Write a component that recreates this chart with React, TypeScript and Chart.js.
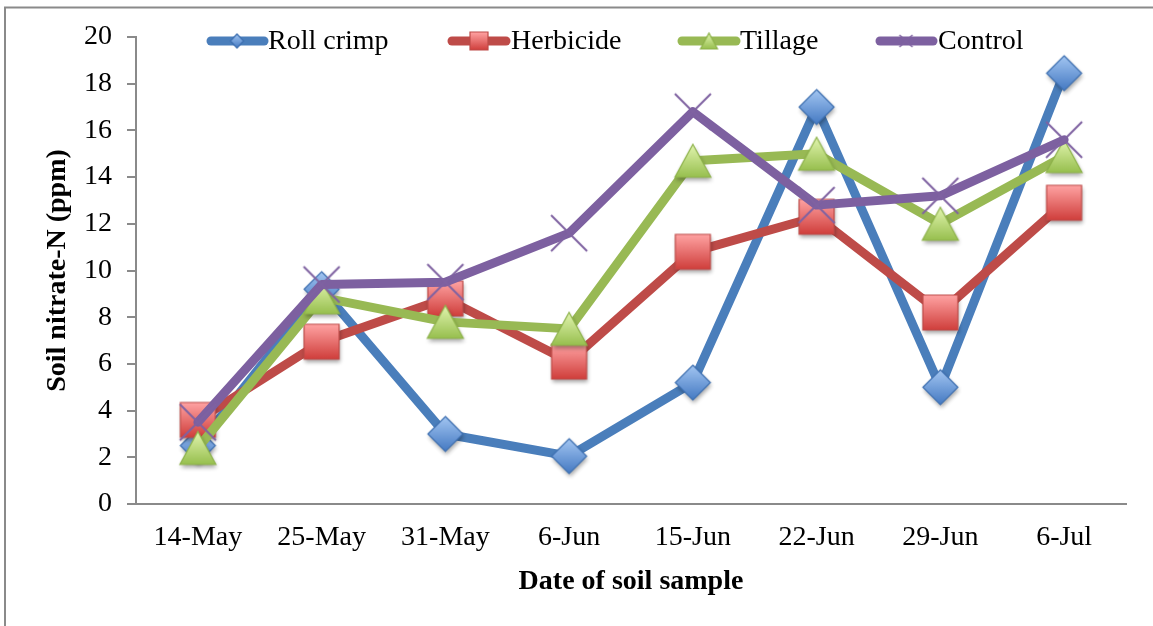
import React, { useEffect, useRef } from 'react';
import { Chart, registerables } from 'chart.js';

Chart.register(...registerables);

const categories = ['14-May', '25-May', '31-May', '6-Jun', '15-Jun', '22-Jun', '29-Jun', '6-Jul'];
const rollCrimp = [2.5, 9.2, 3.0, 2.05, 5.2, 17.0, 5.0, 18.45];
const herbicide = [3.6, 6.95, 8.8, 6.1, 10.8, 12.3, 8.2, 12.9];
const tillage = [2.4, 8.85, 7.8, 7.5, 14.7, 15.0, 12.0, 14.9];
const control = [3.5, 9.4, 9.5, 11.6, 16.8, 12.8, 13.2, 15.6];
const seriesNames = ['Roll crimp', 'Herbicide', 'Tillage', 'Control'];
const yAxisTitle = 'Soil nitrate-N (ppm)';
const xAxisTitle = 'Date of soil sample';

const FONT = '"Liberation Serif", "Times New Roman", serif';

type Kind = 'diamond' | 'square' | 'triangle' | 'cross';

interface MarkerStyle {
  kind: Kind;
  top: string;
  bottom: string;
  border: string;
}

const markerStyles: MarkerStyle[] = [
  { kind: 'diamond', top: '#A3C6F2', bottom: '#4479C2', border: '#3D6FB0' },
  { kind: 'square', top: '#FFA3A3', bottom: '#CF3E3B', border: '#BE4B48' },
  { kind: 'triangle', top: '#E2F5B0', bottom: '#97BF4E', border: '#8DB24A' },
  { kind: 'cross', top: '#7F62A1', bottom: '#7F62A1', border: '#7F62A1' },
];
const lineColors = ['#4A7EBB', '#BE4B48', '#98B954', '#7D60A0'];

function makeMarker(st: MarkerStyle, w: number, h: number, shadow: boolean): HTMLCanvasElement {
  const pad = 8;
  const c = document.createElement('canvas');
  c.width = Math.round(w + pad * 2);
  c.height = Math.round(h + pad * 2);
  const ctx = c.getContext('2d') as CanvasRenderingContext2D;
  const cx = c.width / 2;
  const cy = c.height / 2;
  const hw = w / 2;
  const hh = h / 2;
  const path = () => {
    ctx.beginPath();
    if (st.kind === 'diamond') {
      ctx.moveTo(cx, cy - hh);
      ctx.lineTo(cx + hw, cy);
      ctx.lineTo(cx, cy + hh);
      ctx.lineTo(cx - hw, cy);
      ctx.closePath();
    } else if (st.kind === 'square') {
      ctx.rect(cx - hw, cy - hh, w, h);
    } else if (st.kind === 'triangle') {
      ctx.moveTo(cx, cy - hh);
      ctx.lineTo(cx + hw, cy + hh);
      ctx.lineTo(cx - hw, cy + hh);
      ctx.closePath();
    }
  };
  if (st.kind === 'cross') {
    ctx.strokeStyle = st.border;
    ctx.lineWidth = shadow ? 2 : 1.5;
    ctx.beginPath();
    ctx.moveTo(cx - hw, cy - hh);
    ctx.lineTo(cx + hw, cy + hh);
    ctx.moveTo(cx + hw, cy - hh);
    ctx.lineTo(cx - hw, cy + hh);
    ctx.stroke();
    return c;
  }
  const g = ctx.createLinearGradient(0, cy - hh, 0, cy + hh);
  g.addColorStop(0, st.top);
  g.addColorStop(1, st.bottom);
  ctx.save();
  if (shadow) {
    ctx.shadowColor = 'rgba(0,0,0,0.35)';
    ctx.shadowBlur = 4;
    ctx.shadowOffsetX = 1;
    ctx.shadowOffsetY = 3;
  }
  path();
  ctx.fillStyle = g;
  ctx.fill();
  ctx.restore();
  path();
  ctx.strokeStyle = st.border;
  ctx.lineWidth = 1.2;
  ctx.stroke();
  return c;
}

const plotMarkerSizes: [number, number][] = [
  [35, 35],
  [35, 35],
  [36, 33],
  [36, 36],
];
const legendMarkerSizes: [number, number][] = [
  [13, 14],
  [18, 18],
  [17, 16],
  [13, 12],
];
// legend item x positions: line start, line end, marker centre, text start
const legendLineStart = [207, 448, 678, 876];
const legendLineEnd = [268, 510, 740, 937];
const legendMarkerX = [237, 479, 709, 906];
const legendTextX = [268, 511, 740, 938];
const legendY = 41;

export default function App() {
  const ref = useRef<HTMLCanvasElement | null>(null);

  useEffect(() => {
    if (!ref.current) return;
    const plotMarkers = markerStyles.map((s, i) => makeMarker(s, plotMarkerSizes[i][0], plotMarkerSizes[i][1], true));
    const legendMarkers = markerStyles.map((s, i) => makeMarker(s, legendMarkerSizes[i][0], legendMarkerSizes[i][1], false));
    const seriesData = [rollCrimp, herbicide, tillage, control];

    const framePlugin = {
      id: 'frame',
      beforeDraw(chart: Chart) {
        const ctx = chart.ctx;
        ctx.save();
        ctx.fillStyle = '#ffffff';
        ctx.fillRect(0, 0, chart.width, chart.height);
        ctx.strokeStyle = '#8A8A8A';
        ctx.lineWidth = 2;
        ctx.strokeRect(5, 7.5, 1160, 700);
        ctx.restore();
      },
    };

    const legendPlugin = {
      id: 'customLegend',
      afterDraw(chart: Chart) {
        const ctx = chart.ctx;
        ctx.save();
        for (let i = 0; i < seriesNames.length; i++) {
          ctx.beginPath();
          ctx.strokeStyle = lineColors[i];
          ctx.lineWidth = 9;
          ctx.lineCap = 'round';
          ctx.moveTo(legendLineStart[i] + 4, legendY);
          ctx.lineTo(legendLineEnd[i] - 4, legendY);
          ctx.stroke();
          const m = legendMarkers[i];
          ctx.drawImage(m, legendMarkerX[i] - m.width / 2, legendY - m.height / 2);
          ctx.fillStyle = '#000000';
          ctx.font = `28px ${FONT}`;
          ctx.textAlign = 'left';
          ctx.textBaseline = 'middle';
          ctx.fillText(seriesNames[i], legendTextX[i], legendY + 1);
        }
        ctx.restore();
      },
    };

    const chart = new Chart(ref.current, {
      type: 'line',
      data: {
        labels: categories,
        datasets: seriesNames.map((name, i) => ({
          label: name,
          data: seriesData[i],
          borderColor: lineColors[i],
          backgroundColor: lineColors[i],
          borderWidth: 9,
          borderJoinStyle: 'round' as const,
          borderCapStyle: 'round' as const,
          pointStyle: plotMarkers[i] as any,
          pointRadius: 18,
          pointHoverRadius: 18,
          tension: 0,
          fill: false,
          order: seriesNames.length - i,
          clip: false as any,
        })),
      },
      options: {
        animation: false,
        responsive: false,
        devicePixelRatio: 1,
        events: [],
        layout: { padding: { top: 37, right: 19, left: 0, bottom: 0 } },
        plugins: {
          legend: { display: false },
          tooltip: { enabled: false },
          title: { display: false },
        },
        scales: {
          x: {
            type: 'category',
            offset: true,
            grid: { display: true, drawOnChartArea: false, drawTicks: false, color: '#8A8A8A' },
            border: { display: true, color: '#8A8A8A', width: 2 },
            ticks: {
              color: '#000000',
              font: { family: FONT, size: 28 },
              padding: 17,
              maxRotation: 0,
              autoSkip: false,
            },
            title: {
              display: true,
              text: xAxisTitle,
              color: '#000000',
              font: { family: FONT, size: 28, weight: 'bold' },
              padding: { top: 0, bottom: 27 },
            },
            afterFit: (s: any) => {
              s.height = 122;
            },
          },
          y: {
            min: 0,
            max: 20,
            grid: {
              display: true,
              drawOnChartArea: false,
              drawTicks: true,
              tickLength: 9,
              color: '#8A8A8A',
              lineWidth: 2,
            },
            border: { display: true, color: '#8A8A8A', width: 2 },
            ticks: {
              stepSize: 2,
              color: '#000000',
              font: { family: FONT, size: 28 },
              padding: 15,
            },
            title: {
              display: true,
              text: yAxisTitle,
              color: '#000000',
              font: { family: FONT, size: 28, weight: 'bold' },
              padding: { top: 41, bottom: 0 },
            },
            afterFit: (s: any) => {
              s.width = 136;
            },
          },
        },
      },
      plugins: [framePlugin, legendPlugin],
    });

    return () => {
      chart.destroy();
    };
  }, []);

  return (
    <div style={{ position: 'absolute', left: 0, top: 0, width: 1153, height: 626, background: '#ffffff' }}>
      <canvas ref={ref} width={1153} height={626} style={{ display: 'block', width: 1153, height: 626 }} />
    </div>
  );
}
